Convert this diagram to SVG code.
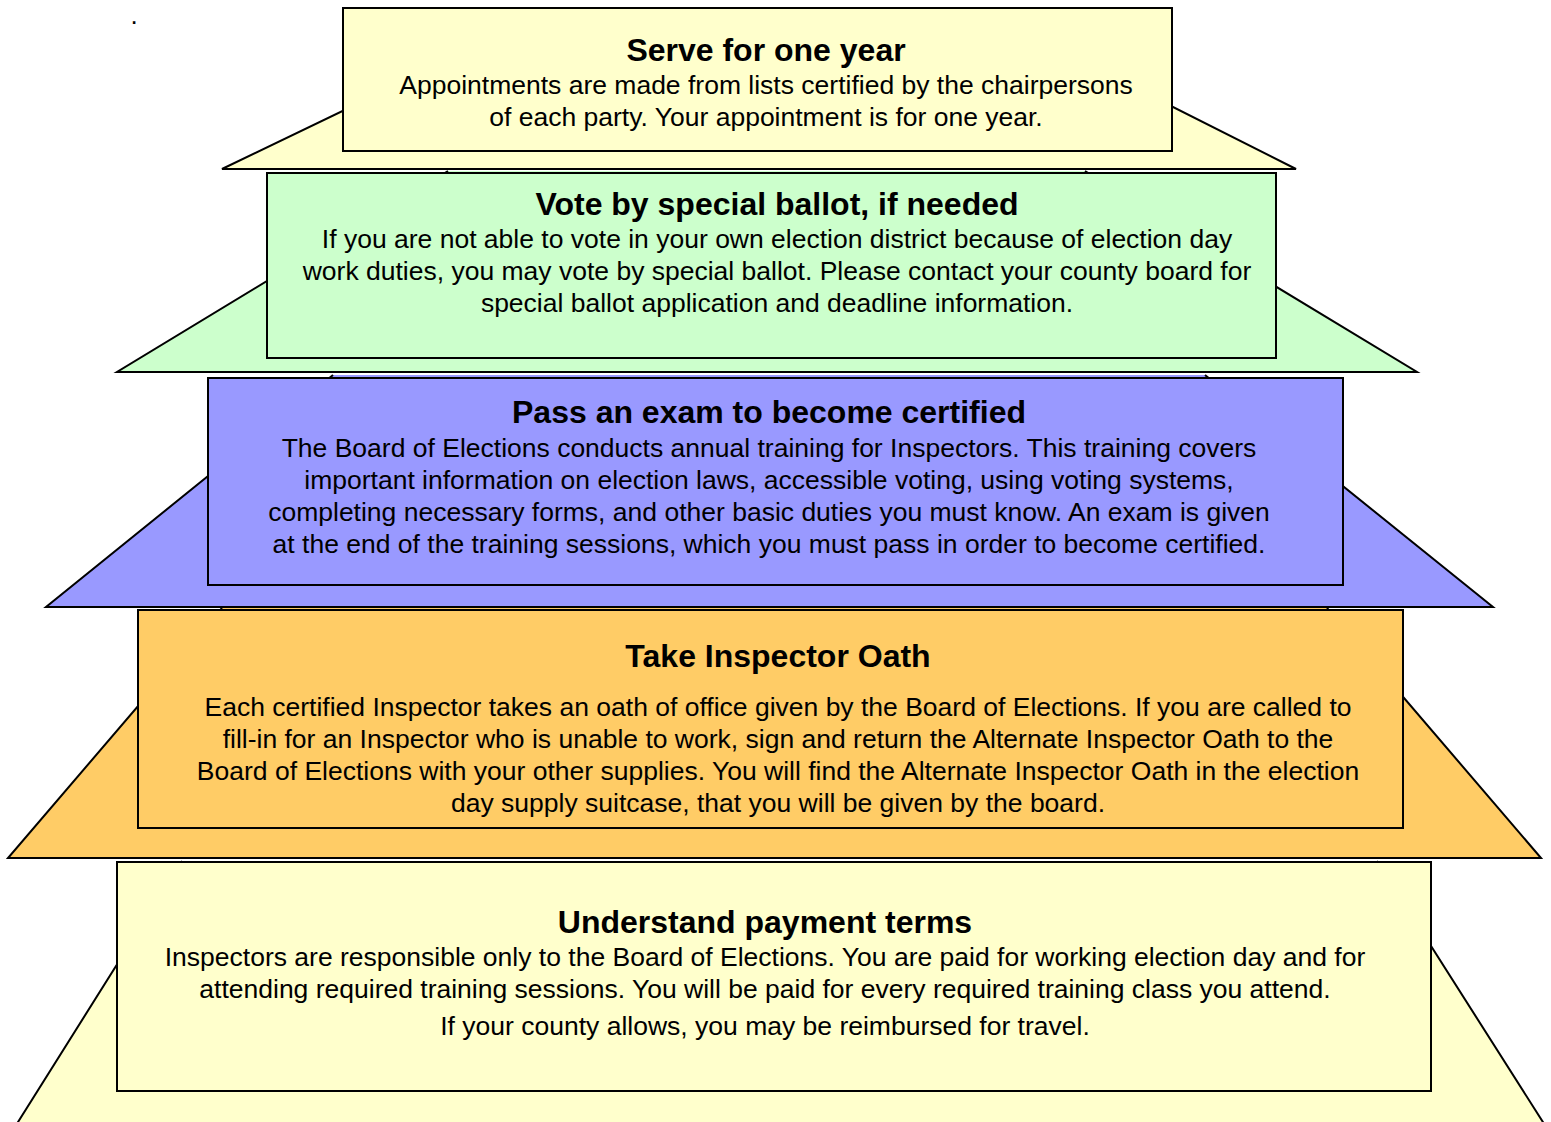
<svg xmlns="http://www.w3.org/2000/svg" width="1551" height="1122" viewBox="0 0 1551 1122">
  <style>
    .fill { stroke: none; }
    .edge { fill: none; stroke: #000; stroke-width: 2; stroke-linejoin: miter; }
    .box { stroke: #000; stroke-width: 2; }
    .yellow { fill: #FFFFCC; }
    .green { fill: #CCFFCC; }
    .blue { fill: #9999FF; }
    .orange { fill: #FFCC66; }
    text { font-family: "Liberation Sans", Arial, sans-serif; fill: #000; text-anchor: middle; }
    .title { font-size: 32px; font-weight: bold; }
    .body { font-size: 26.5px; }
  </style>
  <rect width="1551" height="1122" fill="#fff"/>
  <text x="134" y="24" style="font-size:26px">.</text>

  <!-- pyramid slices, drawn bottom-up so each upper slice overlaps the one below;
       the outline covers the sides and base only -->
  <g id="slices">
    <polygon class="fill yellow" points="182,861 1377,861 1548,1130 13,1130"/>
    <polyline class="edge" points="182,861 13,1130 1548,1130 1377,861"/>
    <polygon class="fill orange" points="222,608 1327,608 1541,858 8,858"/>
    <polyline class="edge" points="222,608 8,858 1541,858 1327,608"/>
    <polygon class="fill blue" points="333,375 1205,375 1493,607 46,607"/>
    <polyline class="edge" points="333,375 46,607 1493,607 1205,375"/>
    <polygon class="fill green" points="448,171 1085,171 1417,372 117,372"/>
    <polyline class="edge" points="448,171 117,372 1417,372 1085,171"/>
    <polygon class="fill yellow" points="490,40 1040,40 1296,169 222,169"/>
    <polyline class="edge" points="490,40 222,169 1296,169 1040,40"/>
  </g>

  <g id="step-serve">
    <rect class="box yellow" x="343" y="8" width="829" height="143"/>
    <text class="title" x="766" y="61">Serve for one year</text>
    <text class="body" x="766" y="94">Appointments are made from lists certified by the chairpersons</text>
    <text class="body" x="766" y="126">of each party. Your appointment is for one year.</text>
  </g>

  <g id="step-ballot">
    <rect class="box green" x="267" y="173" width="1009" height="185"/>
    <text class="title" x="777" y="215">Vote by special ballot, if needed</text>
    <text class="body" x="777" y="248">If you are not able to vote in your own election district because of election day</text>
    <text class="body" x="777" y="280">work duties, you may vote by special ballot. Please contact your county board for</text>
    <text class="body" x="777" y="312">special ballot application and deadline information.</text>
  </g>

  <g id="step-exam">
    <rect class="box blue" x="208" y="378" width="1135" height="207"/>
    <text class="title" x="769" y="423">Pass an exam to become certified</text>
    <text class="body" x="769" y="457">The Board of Elections conducts annual training for Inspectors. This training covers</text>
    <text class="body" x="769" y="489">important information on election laws, accessible voting, using voting systems,</text>
    <text class="body" x="769" y="521">completing necessary forms, and other basic duties you must know. An exam is given</text>
    <text class="body" x="769" y="553">at the end of the training sessions, which you must pass in order to become certified.</text>
  </g>

  <g id="step-oath">
    <rect class="box orange" x="138" y="610" width="1265" height="218"/>
    <text class="title" x="778" y="667">Take Inspector Oath</text>
    <text class="body" x="778" y="716">Each certified Inspector takes an oath of office given by the Board of Elections. If you are called to</text>
    <text class="body" x="778" y="748">fill-in for an Inspector who is unable to work, sign and return the Alternate Inspector Oath to the</text>
    <text class="body" x="778" y="780">Board of Elections with your other supplies. You will find the Alternate Inspector Oath in the election</text>
    <text class="body" x="778" y="812">day supply suitcase, that you will be given by the board.</text>
  </g>

  <g id="step-payment">
    <rect class="box yellow" x="117" y="862" width="1314" height="229"/>
    <text class="title" x="765" y="933">Understand payment terms</text>
    <text class="body" x="765" y="966">Inspectors are responsible only to the Board of Elections. You are paid for working election day and for</text>
    <text class="body" x="765" y="998">attending required training sessions. You will be paid for every required training class you attend.</text>
    <text class="body" x="765" y="1035">If your county allows, you may be reimbursed for travel.</text>
  </g>

  <g id="connectors"></g>
</svg>
